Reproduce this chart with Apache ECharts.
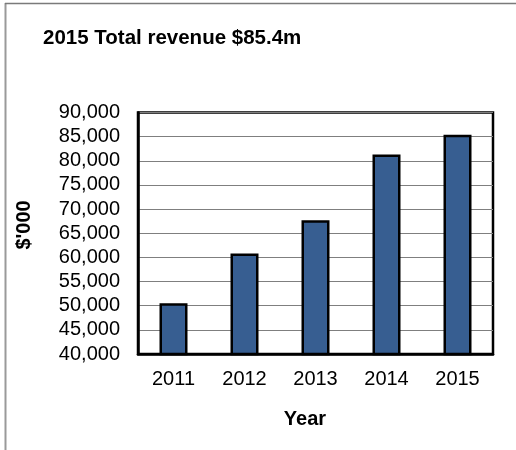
<!DOCTYPE html>
<html>
<head>
<meta charset="utf-8">
<script src="https://cdn.jsdelivr.net/npm/echarts@6/dist/echarts.min.js"></script>
<style>
html,body{margin:0;padding:0;background:#fff;}
#c{width:516px;height:450px;}
</style>
</head>
<body>
<div id="c"></div>
<script>
const categories = ['2011', '2012', '2013', '2014', '2015'];
const revenue = [50500, 60800, 67700, 81300, 85400];
const yTicks = { min: 40000, max: 90000, interval: 5000 };
const titleText = '2015 Total revenue $85.4m';
const xName = 'Year';
const yName = "$'000";

const chart = echarts.init(document.getElementById('c'), null, { renderer: 'canvas' });
const font = '"Liberation Sans", Arial, sans-serif';
chart.setOption({
  animation: false,
  backgroundColor: '#fff',
  title: {
    text: titleText,
    left: 43 - 5, top: 28 - 5,
    textStyle: { fontFamily: font, fontSize: 20.5, fontWeight: 'bold', color: '#000' }
  },
  grid: { left: 138, right: 23, top: 112.5, bottom: 96, show: true, borderColor: '#000', borderWidth: 2.5, backgroundColor: 'transparent' },
  xAxis: {
    type: 'category',
    data: categories,
    axisLine: { show: true, lineStyle: { color: '#000', width: 2.5 } },
    axisTick: { show: false },
    axisLabel: { fontFamily: font, fontSize: 20, color: '#000', margin: 15 }
  },
  yAxis: {
    type: 'value',
    min: yTicks.min, max: yTicks.max, interval: yTicks.interval,
    axisLine: { show: true, lineStyle: { color: '#000', width: 2.5 } },
    axisTick: { show: false },
    splitLine: { show: true, lineStyle: { color: '#7f7f7f', width: 1 } },
    axisLabel: {
      fontFamily: font, fontSize: 20, color: '#000', margin: 18,
      formatter: v => v.toLocaleString('en-US')
    }
  },
  graphic: [
    { type: 'line', shape: { x1: 5.5, y1: 3, x2: 5.5, y2: 450 }, style: { stroke: '#9a9a9a', lineWidth: 2 } },
    { type: 'line', shape: { x1: 5, y1: 3.5, x2: 516, y2: 3.5 }, style: { stroke: '#7a7a7a', lineWidth: 1.5 } },
    { type: 'text', style: { text: xName, x: 0, y: 0, align: 'center', verticalAlign: 'middle', font: 'bold 20px ' + font, fill: '#000' }, x: 305, y: 419 },
    { type: 'text', style: { text: yName, x: 0, y: 0, align: 'center', verticalAlign: 'middle', font: 'bold 20px ' + font, fill: '#000' }, x: 24, y: 225, rotation: Math.PI / 2 }
  ],
  series: [{
    type: 'bar',
    data: revenue,
    barWidth: 28,
    itemStyle: { color: '#375E91', borderColor: '#000', borderWidth: 2.5 }
  }]
});
</script>
</body>
</html>
